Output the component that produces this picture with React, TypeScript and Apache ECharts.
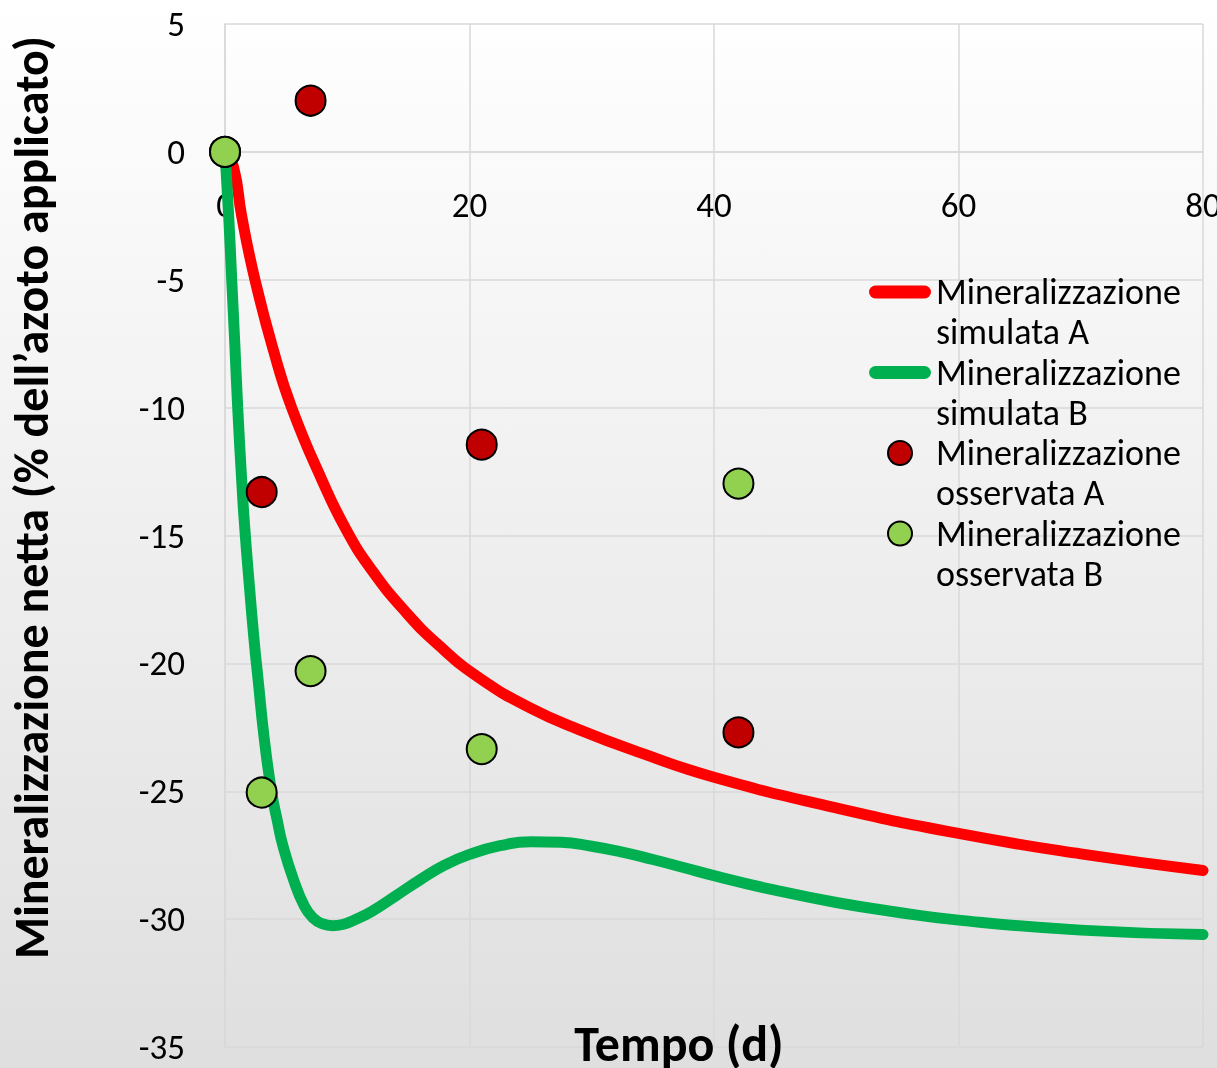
import React, { useEffect, useRef } from "react";
import * as echarts from "echarts";

// Simulated curves
const simAx = [0, 0.7, 1.36, 2.45, 3.95, 5.45, 7.9, 10, 12, 14.7, 17.5, 20.9, 25, 29, 34, 40, 50, 60, 70, 80];
const simAy = [0, -0.6, -2.5, -5.0, -7.74, -10.0, -12.8, -14.85, -16.35, -17.95, -19.3, -20.6, -21.75, -22.6, -23.5, -24.45, -25.65, -26.65, -27.45, -28.1];

const simBx = [0, 0.3, 0.55, 0.8, 1.04, 1.36, 1.6, 2.0, 2.4, 2.7, 3.2, 3.8, 4.3, 4.72, 5.6, 6.5, 7.2, 7.9, 8.8, 9.7, 10.5, 12, 14, 16, 18, 20, 22.5, 25, 27.5, 30, 32.5, 35, 37.5, 40, 45, 50, 55, 60, 70, 80];
const simBy = [0, -2.5, -5, -7.5, -10, -12.8, -14.6, -17.0, -19.2, -20.6, -22.9, -25, -26.2, -27.1, -28.45, -29.5, -29.95, -30.17, -30.26, -30.2, -30.05, -29.7, -29.08, -28.45, -27.88, -27.47, -27.13, -26.97, -26.99, -27.15, -27.38, -27.67, -27.98, -28.3, -28.87, -29.35, -29.73, -30.04, -30.43, -30.6];

// Observed points
const obsDays = [0, 3, 7, 21, 42];
const obsA = [0, -13.3, 2.0, -11.45, -22.7];
const obsB = [0, -25.05, -20.3, -23.35, -12.97];

const names = [
  "Mineralizzazione simulata A",
  "Mineralizzazione simulata B",
  "Mineralizzazione osservata A",
  "Mineralizzazione osservata B",
];

const FONT = "Carlito, Lato, sans-serif";
const GRID_COLOR = "#d9d9d9";
// Icons sit in a 62x68 frame (forced by the two bare moveTo points) so that
// they line up with the first line of the two-line legend text.
const LINE_ICON =
  "path://M0,0M62,68M6.5,7.5L55.5,7.5A6.5,6.5,0,0,1,55.5,20.5L6.5,20.5A6.5,6.5,0,0,1,6.5,7.5Z";
const DOT_ICON = "path://M0,0M62,68M31,2A12,12,0,1,1,31,26A12,12,0,1,1,31,2Z";

const pairs = (xs: number[], ys: number[]) => xs.map((x, i) => [x, ys[i]]);

export default function App() {
  const ref = useRef<HTMLDivElement>(null);
  useEffect(() => {
    if (!ref.current) return;
    const chart = echarts.init(ref.current, undefined, { renderer: "svg" });
    chart.setOption({
      animation: false,
      textStyle: { fontFamily: FONT },
      graphic: [
        {
          type: "rect",
          left: 0,
          top: 0,
          z: -10,
          silent: true,
          shape: { width: 1217, height: 1068 },
          style: {
            fill: new echarts.graphic.LinearGradient(0, 0, 0, 1, [
              { offset: 0, color: "#ffffff" },
              { offset: 1, color: "#dfdfdf" },
            ]),
          },
        },
      ],
      grid: { left: 225, right: 14, top: 24, bottom: 21, outerBoundsMode: "none", containLabel: false },
      legend: {
        orient: "vertical",
        left: 868,
        top: 272,
        padding: 0,
        itemWidth: 62,
        itemHeight: 68,
        itemGap: 0.5,
        symbolKeepAspect: true,
        formatter: (n: string) => n.replace(" ", "\n"),
        textStyle: {
          fontFamily: FONT,
          fontSize: 36,
          lineHeight: 40,
          color: "#000",
        },
        data: [
          { name: names[0], icon: LINE_ICON, itemStyle: { borderWidth: 0 } },
          { name: names[1], icon: LINE_ICON, itemStyle: { borderWidth: 0 } },
          { name: names[2], icon: DOT_ICON },
          { name: names[3], icon: DOT_ICON },
        ],
      },
      xAxis: [
        {
          // value axis drawn on the y = 0 line, labels below it
          type: "value",
          min: 0,
          max: 80,
          interval: 20,
          position: "top",
          offset: -127.9,
          axisLine: { show: true, onZero: false, lineStyle: { color: GRID_COLOR, width: 1.5 } },
          axisTick: { show: false },
          axisLabel: { inside: true, fontFamily: FONT, fontSize: 35, color: "#000", margin: 36 },
          splitLine: { show: true, lineStyle: { color: GRID_COLOR, width: 1.5 } },
        },
        {
          // carries only the axis title at the bottom
          type: "value",
          min: 0,
          max: 80,
          interval: 20,
          position: "bottom",
          name: "Tempo (d)",
          nameLocation: "middle",
          nameGap: -27,
          nameTextStyle: {
            fontFamily: FONT,
            fontSize: 50,
            lineHeight: 46,
            fontWeight: "bold",
            color: "#000",
            padding: [0, 70, 0, 0],
          },
          axisLine: { show: false, onZero: false },
          axisTick: { show: false },
          axisLabel: { show: false },
          splitLine: { show: false },
        },
      ],
      yAxis: {
        type: "value",
        min: -35,
        max: 5,
        interval: 5,
        name: "Mineralizzazione netta (% dell’azoto applicato)",
        nameLocation: "middle",
        nameGap: 170,
        nameTextStyle: {
          fontFamily: FONT,
          fontSize: 48,
          fontWeight: "bold",
          color: "#000",
          padding: [0, 0, 0, 76],
        },
        axisLine: { show: true, onZero: false, lineStyle: { color: GRID_COLOR, width: 1.5 } },
        axisTick: { show: false },
        axisLabel: { fontFamily: FONT, fontSize: 35, color: "#000", margin: 40 },
        splitLine: { show: true, lineStyle: { color: GRID_COLOR, width: 1.5 } },
      },
      series: [
        {
          name: names[0],
          type: "line",
          data: pairs(simAx, simAy),
          showSymbol: false,
          smooth: 0.5,
          itemStyle: { color: "#ff0000" },
          lineStyle: { color: "#ff0000", width: 11, cap: "round" },
          z: 2,
        },
        {
          name: names[1],
          type: "line",
          data: pairs(simBx, simBy),
          showSymbol: false,
          smooth: 0.5,
          itemStyle: { color: "#00b050" },
          lineStyle: { color: "#00b050", width: 11, cap: "round" },
          z: 2,
        },
        {
          name: names[2],
          type: "scatter",
          data: pairs(obsDays, obsA),
          symbolSize: 30,
          itemStyle: { color: "#c00000", borderColor: "#000", borderWidth: 2, opacity: 1 },
          z: 3,
        },
        {
          name: names[3],
          type: "scatter",
          data: pairs(obsDays, obsB),
          symbolSize: 30,
          itemStyle: { color: "#92d050", borderColor: "#000", borderWidth: 2, opacity: 1 },
          z: 4,
        },
      ],
    });
    return () => chart.dispose();
  }, []);
  return (
    <div
      ref={ref}
      style={{ position: "fixed", left: 0, top: 0, width: 1217, height: 1068 }}
    />
  );
}
